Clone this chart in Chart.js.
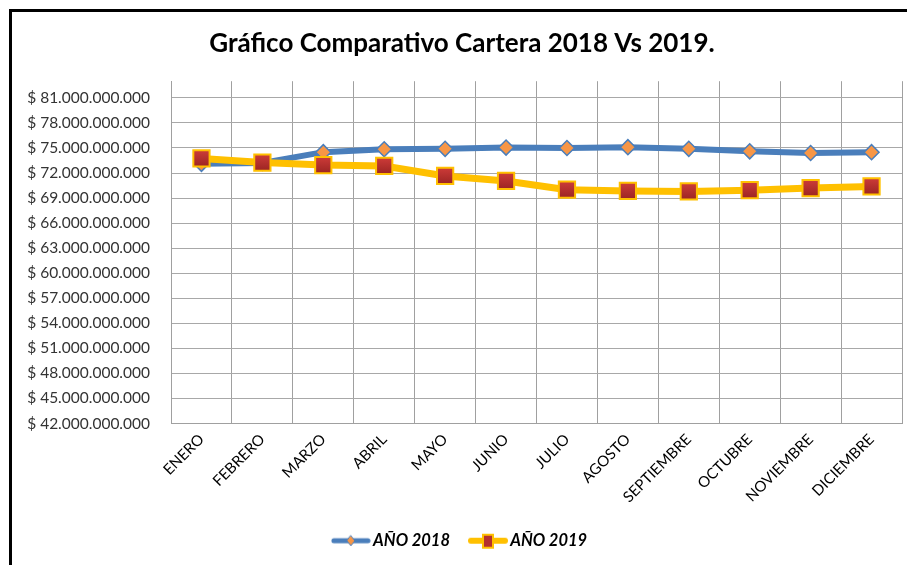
<!DOCTYPE html>
<html>
<head>
<meta charset="utf-8">
<script src="https://cdn.jsdelivr.net/npm/chart.js@4/dist/chart.umd.min.js"></script>
<style>
  html, body { margin: 0; padding: 0; background: #fff; overflow: hidden; }
  #marco { position: absolute; left: 9px; top: 9px; width: 1000px; height: 1000px;
           border-left: 3px solid #000; border-top: 3px solid #000; }
  #grafico { position: absolute; left: 0; top: 0; }
</style>
</head>
<body>
<div id="marco"></div>
<canvas id="grafico" width="907" height="565"></canvas>
<script>
// meses y valores de cartera (pesos)
const meses = ['ENERO', 'FEBRERO', 'MARZO', 'ABRIL', 'MAYO', 'JUNIO', 'JULIO',
    'AGOSTO', 'SEPTIEMBRE', 'OCTUBRE', 'NOVIEMBRE', 'DICIEMBRE'];
const cartera2018 = [73100000000, 73200000000, 74500000000, 74850000000, 74900000000, 75050000000,
    75000000000, 75100000000, 74900000000, 74600000000, 74400000000, 74500000000];
const cartera2019 = [73750000000, 73250000000, 72950000000, 72850000000, 71650000000, 71050000000,
    70000000000, 69850000000, 69800000000, 69950000000, 70200000000, 70400000000];
// marcas del eje vertical
const marcasY = [42000000000, 45000000000, 48000000000, 51000000000, 54000000000, 57000000000,
    60000000000, 63000000000, 66000000000, 69000000000, 72000000000, 75000000000,
    78000000000, 81000000000];
const ejeMin = 42000000000;
const ejeMax = 83000000000;

function pesos(v) {
    return '$ ' + String(Math.round(v)).replace(/\B(?=(\d{3})+(?!\d))/g, '.');
}

// iconos de la leyenda: linea con marcador
function icono(color, ancho, marca) {
    let c = document.createElement('canvas');
    c.width = 40;
    c.height = 18;
    let ctx = c.getContext('2d');
    ctx.strokeStyle = color;
    ctx.lineWidth = ancho;
    ctx.lineCap = 'round';
    ctx.beginPath();
    ctx.moveTo(3, 9);
    ctx.lineTo(37, 9);
    ctx.stroke();
    if (marca === 'rombo') {
        ctx.beginPath();
        ctx.moveTo(20, 4); ctx.lineTo(24, 9); ctx.lineTo(20, 14); ctx.lineTo(16, 9);
        ctx.closePath();
        ctx.fillStyle = '#f79646';
        ctx.fill();
        ctx.lineWidth = 1;
        ctx.strokeStyle = '#4a7ebb';
        ctx.stroke();
    } else {
        ctx.fillStyle = '#ffc000';
        ctx.fillRect(14, 2, 12, 15);
        ctx.fillStyle = '#b5302e';
        ctx.fillRect(16, 4, 8, 11);
    }
    return c;
}
const icono2018 = icono('#4a7ebb', 5, 'rombo');
const icono2019 = icono('#ffc000', 6, 'cuadro');

const fuente = 'Lato, "DejaVu Sans", sans-serif';

// degradado rojo de los cuadros
function rellenoCuadro(context) {
    let el = context.element;
    if (!el || el.y === undefined || isNaN(el.y)) return '#b5302e';
    let g = context.chart.ctx.createLinearGradient(0, el.y - 8, 0, el.y + 8);
    g.addColorStop(0, '#cc3b38');
    g.addColorStop(1, '#9c2523');
    return g;
}

new Chart(document.getElementById('grafico'), {
    type: 'line',
    data: {
        labels: meses,
        datasets: [{
            label: 'AÑO 2018',
            data: cartera2018,
            order: 1,
            borderColor: '#4a7ebb',
            borderWidth: 6,
            pointStyle: 'rectRot',
            pointRadius: 7.5,
            pointHoverRadius: 7.5,
            pointBackgroundColor: '#f79646',
            pointBorderColor: '#4a7ebb',
            pointBorderWidth: 1.5,
            tension: 0
        }, {
            label: 'AÑO 2019',
            data: cartera2019,
            order: 0,
            borderColor: '#ffc000',
            borderWidth: 7,
            pointStyle: 'rect',
            pointRadius: 11.5,
            pointHoverRadius: 11.5,
            pointBackgroundColor: rellenoCuadro,
            pointBorderColor: '#ffc000',
            pointBorderWidth: 2,
            tension: 0
        }]
    },
    options: {
        responsive: false,
        animation: false,
        layout: { autoPadding: false, padding: { left: 22, right: 5, top: 0, bottom: 6 } },
        plugins: {
            title: {
                display: true,
                text: 'Gráfico Comparativo Cartera 2018 Vs 2019.',
                color: '#000',
                font: { family: fuente, size: 26, weight: 'bold' },
                padding: { top: 28, bottom: 22 }
            },
            legend: {
                position: 'bottom',
                labels: {
                    usePointStyle: true,
                    pointStyleWidth: 28,
                    padding: 24,
                    color: '#000',
                    font: { family: fuente, size: 16.5, weight: 'bold', style: 'italic' },
                    generateLabels: function (chart) {
                        return chart.data.datasets.map(function (ds, i) {
                            return {
                                text: ds.label,
                                pointStyle: i === 0 ? icono2018 : icono2019,
                                fillStyle: ds.borderColor,
                                strokeStyle: ds.borderColor,
                                lineWidth: 0,
                                fontColor: '#000',
                                datasetIndex: i
                            };
                        });
                    }
                }
            },
            tooltip: { enabled: false }
        },
        scales: {
            x: {
                offset: true,
                grid: { offset: true, color: '#a0a0a0', drawTicks: false },
                border: { color: '#a0a0a0' },
                ticks: {
                    autoSkip: false,
                    minRotation: 45,
                    maxRotation: 45,
                    padding: 7,
                    color: '#000',
                    font: { family: fuente, size: 15 }
                },
                afterFit: function (scale) {
                    scale.height = 85;
                    scale.paddingLeft = 0;
                    scale.paddingRight = 0;
                }
            },
            y: {
                min: ejeMin,
                max: ejeMax,
                grid: { color: '#a8a8a8', drawTicks: false },
                border: { color: '#a0a0a0' },
                afterBuildTicks: function (scale) {
                    scale.ticks = marcasY.map(function (v) { return { value: v }; });
                },
                ticks: {
                    padding: 21,
                    color: '#333',
                    font: { family: fuente, size: 15.5 },
                    callback: function (v) { return pesos(v); }
                },
                afterFit: function (scale) { scale.width = 149; }
            }
        }
    }
});
</script>
</body>
</html>
